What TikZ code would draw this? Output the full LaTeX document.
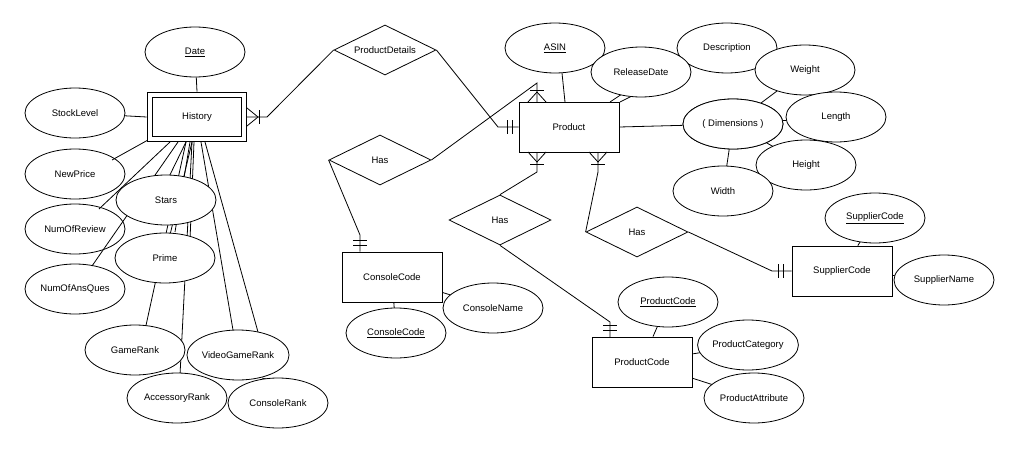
\documentclass[tikz,border=0pt]{standalone}
\usepackage{fontspec}
\setmainfont{Liberation Sans}
\usetikzlibrary{shapes.geometric,calc}
\begin{document}
\begin{tikzpicture}[x=1pt,y=-1pt,line width=0.8pt,
  attr/.style={ellipse,draw,fill=white,minimum width=100pt,minimum height=50pt,inner sep=0pt,font=\fontsize{9.5}{11}\selectfont},
  ent/.style={rectangle,draw,fill=white,minimum width=100pt,minimum height=50pt,font=\fontsize{9.5}{11}\selectfont},
  rel/.style={diamond,draw,fill=white,minimum width=102pt,minimum height=50pt,inner sep=0pt,aspect=2,font=\fontsize{9.5}{11}\selectfont},
  ln/.style={draw,line width=0.8pt}]
\useasboundingbox (0,0) rectangle (1021,455);
% coordinates
\coordinate (hist) at (197,117);
% History attribute lines (behind)
\node[ent,minimum width=100pt,minimum height=50pt,draw=none,fill=none] (H) at (197,117) {};
\node[attr] (date) at (195,52) {\underline{Date}};
\node[attr] (stock) at (75,113) {StockLevel};
\node[attr] (newp) at (75,174) {NewPrice};
\node[attr] (nrev) at (75,229) {NumOfReview};
\node[attr] (nans) at (75,289) {NumOfAnsQues};
\coordinate (sc) at (166,200);
\coordinate (pc) at (165,258);
\coordinate (gc) at (135,350);
\coordinate (ac) at (177,398);
\coordinate (vc) at (238,355);
\coordinate (cc) at (278,403);
\begin{scope}[on background layer/.style={}]
\draw (H.north) -- (date);
\draw (H.west) -- (stock);
\draw (148,140) -- (112,160);
\draw (170,142) -- (99,209);
\draw (178,142) -- (92,266);
\draw (186,142) -- (165,185);
\draw (190,142) -- (175,232);
\draw (192,142) -- (170,235);
\draw (194,142) -- (190,240);
\draw (186,142) -- (145,330);
\draw (192,142) -- (180,375);
\draw (201,142) -- (233,330);
\draw (205,142) -- (258,332);
\draw (262,378) -- (270,380);
\end{scope}
\node[attr] at (166,200) (stars) {Stars};
\node[attr] at (165,258) (prime) {Prime};
\node[attr] at (135,350) (game) {GameRank};
\node[attr] at (177,398) (acc) {AccessoryRank};
\node[attr] at (238,355) (vgr) {VideoGameRank};
\node[attr] at (278,403) (crank) {ConsoleRank};
% History double rect
\node[ent,minimum width=99pt,minimum height=49pt] (hist) at (197,117) {};
\node[ent,minimum width=89pt,minimum height=39pt] at (197,117) {History};
% Product side
\node[ent] (prod) at (569,127) {Product};
\node[rel] (pd) at (385,50) {ProductDetails};
\node[rel] (has1) at (380,160) {Has};
\node[rel] (has2) at (500,220) {Has};
\node[rel] (has3) at (637,232) {Has};
\node[ent] (cons) at (392,277) {ConsoleCode};
\node[ent] (supp) at (842,271) {SupplierCode};
\node[ent] (pcode) at (642,362) {ProductCode};
% relationship lines
\draw (hist.east) -- (267,117) -- (pd.west);
\draw (247,108) -- (258,117) -- (247,126); \draw (259,110) -- (259,124);
\draw (pd.east) -- (498,127) -- (prod.west);
\draw (507,120) -- (507,134); \draw (512,120) -- (512,134);
\draw (has1.east) -- (537,83) -- (537,102);
\draw (528,102) -- (537,92) -- (546,102); \draw (530,90) -- (544,90);
\draw (has1.west) -- (360,235) -- (cons.north -| 360,0);
\draw (353,240) -- (367,240); \draw (353,245) -- (367,245);
\draw (537,152) -- (537,172) -- (has2.north);
\draw (528,152) -- (537,162) -- (546,152); \draw (530,164) -- (544,164);
\draw (has2.south) -- (610,322) -- (610,337);
\draw (603,325) -- (617,325); \draw (603,330) -- (617,330);
\draw (598,152) -- (598,172) -- (has3.west);
\draw (589,152) -- (598,162) -- (607,152); \draw (591,164) -- (605,164);
\draw (has3.east) -- (772,271) -- (supp.west);
\draw (778,264) -- (778,278); \draw (783,264) -- (783,278);
% Product attributes
\node[attr] (dims) at (733,124) {( Dimensions )};
\draw (prod.east) -- (dims);
\draw (565,102) -- (562,73);
\draw (610,102) -- (625,92);
\draw (620,102) -- (632,96);
\node[attr] (asin) at (555,48) {\underline{ASIN}};
\node[attr] (desc) at (727,48) {Description};
\node[attr] (rel) at (641,72) {ReleaseDate};
\draw (dims) -- (805,70); \draw (dims) -- (836,117); \draw (dims) -- (806,165); \draw (dims) -- (723,191);
\node[attr] at (733,124) {( Dimensions )};
\node[attr] (wt) at (805,70) {Weight};
\node[attr] (len) at (836,117) {Length};
\node[attr] (hgt) at (806,165) {Height};
\node[attr] (wid) at (723,191) {Width};
% console
\draw (cons) -- (493,308); \draw (cons) -- (396,333);
\node[ent] at (392,277) {ConsoleCode};
\node[attr] (cname) at (493,308) {ConsoleName};
\node[attr] (ccode) at (396,333) {\underline{ConsoleCode}};
% supplier
\draw (supp) -- (875,218); \draw (supp) -- (944,280);
\node[ent] at (842,271) {SupplierCode};
\node[attr] (scode) at (875,218) {\underline{SupplierCode}};
\node[attr] (sname) at (944,280) {SupplierName};
% product code
\draw (pcode) -- (668,302); \draw (pcode) -- (748,345); \draw (pcode) -- (754,398);
\node[ent] at (642,362) {ProductCode};
\node[attr] (pcattr) at (668,302) {\underline{ProductCode}};
\node[attr] (pcat) at (748,345) {ProductCategory};
\node[attr] (patt) at (754,398) {ProductAttribute};
\end{tikzpicture}
\end{document}
